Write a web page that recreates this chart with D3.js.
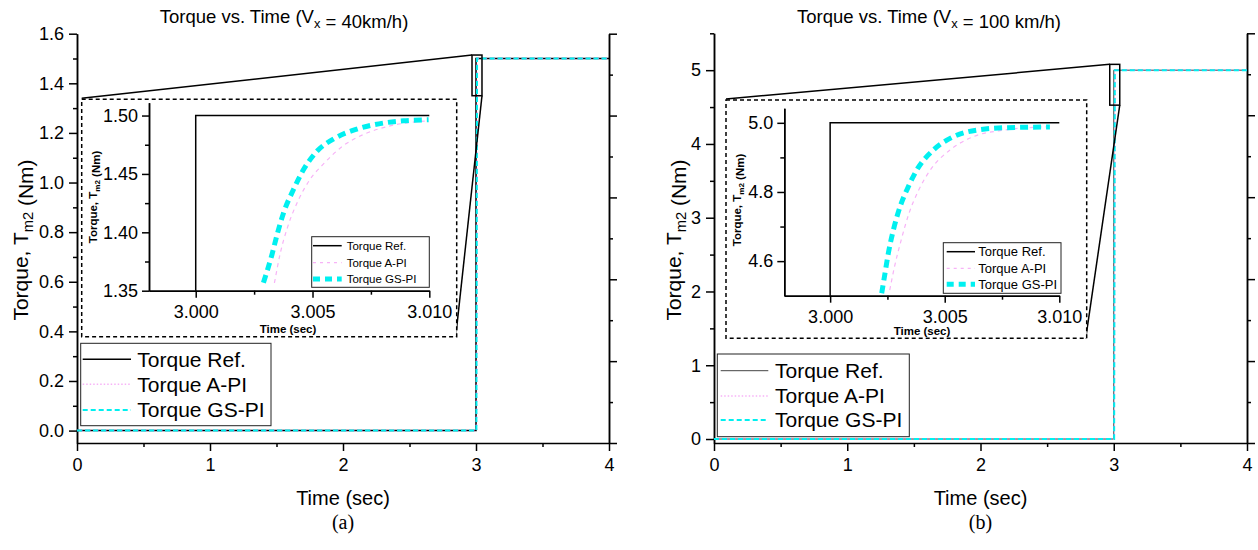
<!DOCTYPE html>
<html>
<head>
<meta charset="utf-8">
<script src="https://cdn.jsdelivr.net/npm/d3@7"></script>
<style>
  body { margin: 0; background: #fff; }
  svg text { font-family: 'Liberation Sans', Arial, sans-serif; }
</style>
</head>
<body>
<div id="chart"></div>
<script>
// Datos
const seriesNames = ['Torque Ref.', 'Torque A-PI', 'Torque GS-PI'];
const mainTicksX = [0, 1, 2, 3, 4];
const insetTicksX = [3.000, 3.005, 3.010];

// (a) Vx = 40 km/h
const refTime = [0, 3, 3, 4];
const refMainA = [0, 0, 1.5, 1.5];
const apiTime = [0, 3.0033, 3.0085, 4];
const apiMainA = [0, 0, 1.5, 1.5];
const gsTime = [0, 3.0029, 3.008, 4];
const gsMainA = [0, 0, 1.5, 1.5];
const yTicksA = [0, 0.2, 0.4, 0.6, 0.8, 1.0, 1.2, 1.4, 1.6];
const insetYTicksA = [1.35, 1.40, 1.45, 1.50];
const insetRefTimeA = [3.000, 3.000, 3.010];
const insetRefA = [1.35, 1.50, 1.50];
const insetGsTimeA = [3.0029, 3.00326, 3.0035, 3.00378, 3.00418, 3.00461, 3.00518, 3.00597, 3.0069, 3.00804, 3.0089, 3.00997];
const insetGsA = [1.3569, 1.3806, 1.3992, 1.4178, 1.4364, 1.4535, 1.4692, 1.4807, 1.4884, 1.4936, 1.4955, 1.4964];
const insetApiTimeA = [3.00337, 3.00362, 3.00394, 3.0044, 3.00488, 3.0055, 3.00627, 3.00715, 3.00823, 3.00997];
const insetApiA = [1.3566, 1.3821, 1.4049, 1.4278, 1.4449, 1.4592, 1.4735, 1.4835, 1.4907, 1.4955];

// (b) Vx = 100 km/h
const refMainB = [0, 0, 5, 5];
const apiMainB = [0, 0, 5, 5];
const gsMainB = [0, 0, 5, 5];
const yTicksB = [0, 1, 2, 3, 4, 5];
const insetYTicksB = [4.6, 4.8, 5.0];
const insetRefTimeB = [3.000, 3.000, 3.010];
const insetRefB = [4.5, 5.0, 5.0];
const insetGsTimeB = [3.00225, 3.00237, 3.00254, 3.00276, 3.00305, 3.00341, 3.00385, 3.0045, 3.00538, 3.0064, 3.0077, 3.00959];
const insetGsB = [4.507, 4.555, 4.623, 4.690, 4.757, 4.815, 4.871, 4.921, 4.960, 4.979, 4.986, 4.988];
const insetApiTimeB = [3.0026, 3.00281, 3.0031, 3.00344, 3.00386, 3.00442, 3.00522, 3.00625, 3.0076, 3.00959];
const insetApiB = [4.516, 4.584, 4.661, 4.738, 4.805, 4.868, 4.921, 4.960, 4.979, 4.989];

const W = 1258, H = 550;
const COLOR_API = '#ee55ee', COLOR_API_LIGHT = '#f7b3f7', COLOR_GS = '#00f0f0';

const svg = d3.select('#chart').append('svg')
  .attr('width', W).attr('height', H);

function zip(xs, ys) { return xs.map((x, i) => [x, ys[i]]); }

function subText(g, x, y, parts, size, opts) {
  let t = g.append('text').attr('x', x).attr('y', y)
    .attr('font-size', size).attr('text-anchor', 'middle');
  if (opts && opts.bold) t.attr('font-weight', 'bold');
  if (opts && opts.rotate) t.attr('transform', 'rotate(-90,' + x + ',' + y + ')');
  parts.forEach(p => {
    if (p.sub) {
      t.append('tspan').attr('font-size', size * 0.7).attr('dy', size * 0.25).text(p.t);
      t.append('tspan').attr('dy', -size * 0.25).text('');
    } else {
      t.append('tspan').text(p.t);
    }
  });
  return t;
}

function styleAxis(g, w) {
  g.selectAll('path.domain').attr('stroke', '#000').attr('stroke-width', w);
  g.selectAll('.tick line').attr('stroke', '#000').attr('stroke-width', w);
  g.selectAll('.tick text').attr('fill', '#000').attr('font-family', "'Liberation Sans', Arial, sans-serif");
}

function drawPanel(p) {
  const g = svg.append('g');
  const x = d3.scaleLinear().domain([0, 4]).range(p.xRange);
  const y = d3.scaleLinear().domain(p.yDomain).range([443, p.yTop]);
  const line = d3.line().x(d => x(d[0])).y(d => y(d[1]));

  // ejes
  g.append('g').attr('transform', 'translate(0,443)')
    .call(d3.axisBottom(x).tickValues(d3.range(0.5, 4, 1)).tickSize(4).tickFormat('').tickSizeOuter(0))
    .call(s => styleAxis(s, 1.5)).select('.domain').remove();
  let xa = g.append('g').attr('transform', 'translate(0,443)')
    .call(d3.axisBottom(x).tickValues(mainTicksX).tickSize(8).tickSizeOuter(0).tickPadding(7).tickFormat(d3.format('d')));
  styleAxis(xa, 1.5);
  xa.selectAll('text').attr('font-size', 18);

  g.append('g').attr('transform', 'translate(' + p.xRange[0] + ',0)')
    .call(d3.axisLeft(y).tickValues(p.yMinor).tickSize(4).tickFormat('').tickSizeOuter(0))
    .call(s => styleAxis(s, 1.5));
  let ya = g.append('g').attr('transform', 'translate(' + p.xRange[0] + ',0)')
    .call(d3.axisLeft(y).tickValues(p.yTicks).tickSize(8).tickSizeOuter(0).tickPadding(5).tickFormat(d3.format(p.yFmt)));
  styleAxis(ya, 1.5);
  ya.selectAll('text').attr('font-size', 18);

  // eje derecho sin etiquetas
  const yr = d3.scaleLinear().domain([0, 10]).range([443, p.yTop]);
  let ra = g.append('g').attr('transform', 'translate(' + p.xRange[1] + ',0)')
    .call(d3.axisRight(yr).tickValues(d3.range(1, 10, 2)).tickSize(4).tickFormat('').tickSizeOuter(0));
  styleAxis(ra, 1.5);
  let ra2 = g.append('g').attr('transform', 'translate(' + p.xRange[1] + ',0)')
    .call(d3.axisRight(yr).tickValues(d3.range(0, 11, 2)).tickSize(8).tickFormat('').tickSizeOuter(0));
  styleAxis(ra2, 1.5);

  // series
  g.append('path').datum(zip(refTime, p.ref)).attr('d', line)
    .attr('fill', 'none').attr('stroke', p.refColor).attr('stroke-width', p.refWidth);
  g.append('path').datum(zip(apiTime, p.api)).attr('d', line)
    .attr('fill', 'none').attr('stroke', COLOR_API).attr('stroke-width', 1.5).attr('stroke-dasharray', '1.5,2.5');
  g.append('path').datum(zip(gsTime, p.gs)).attr('d', line)
    .attr('fill', 'none').attr('stroke', COLOR_GS).attr('stroke-width', 2).attr('stroke-dasharray', '5,3');

  // rectángulo de zoom y líneas de conexión
  const rx0 = x(2.97), rx1 = x(3.045), ry0 = y(p.zoomY[1]), ry1 = y(p.zoomY[0]);
  g.append('rect').attr('x', rx0).attr('y', ry0).attr('width', rx1 - rx0).attr('height', ry1 - ry0)
    .attr('fill', 'none').attr('stroke', '#000').attr('stroke-width', 1.5);
  const b = p.box;
  g.append('line').attr('x1', rx0).attr('y1', ry0).attr('x2', b[0]).attr('y2', b[1] - 1)
    .attr('stroke', '#000').attr('stroke-width', 1.5);
  g.append('line').attr('x1', rx1).attr('y1', ry1).attr('x2', b[2] - 1).attr('y2', b[3])
    .attr('stroke', '#000').attr('stroke-width', 1.5);

  // recuadro del inset
  g.append('rect').attr('x', b[0]).attr('y', b[1]).attr('width', b[2] - b[0]).attr('height', b[3] - b[1])
    .attr('fill', '#fff').attr('stroke', '#000').attr('stroke-width', 1.5).attr('stroke-dasharray', '4,3');

  // inset
  const ix = d3.scaleLinear().domain([2.998, 3.010]).range(p.insetX);
  const iy = d3.scaleLinear().domain(p.insetYDomain).range(p.insetY);
  const curve = d3.line().curve(d3.curveMonotoneX).x(d => ix(d[0])).y(d => iy(d[1]));
  const ib = p.insetY[0];

  g.append('g').attr('transform', 'translate(0,' + ib + ')')
    .call(d3.axisBottom(ix).tickValues([3.0025, 3.0075]).tickSize(4).tickFormat('').tickSizeOuter(0))
    .call(s => styleAxis(s, 1.5));
  let ixa = g.append('g').attr('transform', 'translate(0,' + ib + ')')
    .call(d3.axisBottom(ix).tickValues(insetTicksX).tickSize(7).tickSizeOuter(0).tickPadding(8).tickFormat(d3.format('.3f')));
  styleAxis(ixa, 1.5);
  ixa.selectAll('text').attr('font-size', 18);

  g.append('g').attr('transform', 'translate(' + p.insetX[0] + ',0)')
    .call(d3.axisLeft(iy).tickValues(p.insetYMinor).tickSize(4).tickFormat('').tickSizeOuter(0))
    .call(s => styleAxis(s, 1.5));
  let iya = g.append('g').attr('transform', 'translate(' + p.insetX[0] + ',0)')
    .call(d3.axisLeft(iy).tickValues(p.insetYTicks).tickSize(7).tickSizeOuter(0).tickPadding(4).tickFormat(d3.format(p.insetFmt)));
  styleAxis(iya, 1.5);
  iya.selectAll('text').attr('font-size', 18);

  g.append('path').datum(zip(p.insetRefTime, p.insetRef)).attr('d', d3.line().x(d => ix(d[0])).y(d => iy(d[1])))
    .attr('fill', 'none').attr('stroke', '#000').attr('stroke-width', 1.5);
  g.append('path').datum(zip(p.insetApiTime, p.insetApi)).attr('d', curve)
    .attr('fill', 'none').attr('stroke', COLOR_API_LIGHT).attr('stroke-width', 1.2).attr('stroke-dasharray', '4,4');
  g.append('path').datum(zip(p.insetGsTime, p.insetGs)).attr('d', curve)
    .attr('fill', 'none').attr('stroke', COLOR_GS).attr('stroke-width', 5).attr('stroke-dasharray', '8,5');

  subText(g, p.insetYLab[0], p.insetYLab[1], [{t: 'Torque, T'}, {t: 'm2', sub: true}, {t: ' (Nm)'}], 11.5, {bold: true, rotate: true});
  subText(g, p.insetXLab[0], p.insetXLab[1], [{t: 'Time (sec)'}], 11.5, {bold: true});

  // leyenda del inset
  drawLegend(g, p.insetLeg, p.insetLegRows, p.insetLegLine, p.insetLegFont, true, p.refColor);
  // leyenda principal
  drawLegend(g, p.leg, p.legRows, p.legLine, 21, false, p.refColor, p.refWidth);

  // textos
  subText(g, p.titleX, 23, [{t: 'Torque vs. Time (V'}, {t: 'x', sub: true}, {t: p.titleTail}], 18.5);
  subText(g, p.yLabX, 240, [{t: 'Torque, T'}, {t: 'm2', sub: true}, {t: ' (Nm)'}], 21, {rotate: true});
  subText(g, (p.xRange[0] + p.xRange[1]) / 2, 505, [{t: 'Time (sec)'}], 20);
  g.append('text').attr('x', (p.xRange[0] + p.xRange[1]) / 2).attr('y', 529)
    .attr('text-anchor', 'middle').attr('font-size', 20)
    .style('font-family', "'Liberation Serif', 'Times New Roman', serif").text(p.panel);
}

function drawLegend(g, box, rows, ln, fs, inset, refColor, refWidth) {
  g.append('rect').attr('x', box[0]).attr('y', box[1]).attr('width', box[2] - box[0]).attr('height', box[3] - box[1])
    .attr('fill', '#fff').attr('stroke', '#222').attr('stroke-width', 1);
  const styles = inset
    ? [{c: '#000', w: 1.5, d: null}, {c: COLOR_API_LIGHT, w: 1.2, d: '3,4'}, {c: COLOR_GS, w: 5, d: '7,5'}]
    : [{c: refColor, w: refWidth, d: null}, {c: COLOR_API_LIGHT, w: 1.5, d: '1.5,2'}, {c: COLOR_GS, w: 2, d: '5,3'}];
  seriesNames.forEach((name, i) => {
    const l = g.append('line').attr('x1', ln[0]).attr('x2', ln[1]).attr('y1', rows[i]).attr('y2', rows[i])
      .attr('stroke', styles[i].c).attr('stroke-width', styles[i].w);
    if (styles[i].d) l.attr('stroke-dasharray', styles[i].d);
    g.append('text').attr('x', ln[2]).attr('y', rows[i]).attr('dy', '0.35em')
      .attr('font-size', fs).text(name);
  });
}

drawPanel({
  panel: '(a)', titleX: 284, titleTail: ' = 40km/h)', yLabX: 28,
  xRange: [77, 609], yDomain: [-0.05, 1.6], yTop: 33.7, yFmt: '.1f',
  yTicks: yTicksA, yMinor: d3.range(0.1, 1.6, 0.2),
  ref: refMainA, api: apiMainA, gs: gsMainA, refColor: '#000', refWidth: 1.5,
  zoomY: [1.35, 1.514], box: [81.7, 99.3, 456.7, 336.7],
  insetX: [149, 429.3], insetY: [290.7, 102.7], insetYDomain: [1.35, 1.511],
  insetYTicks: insetYTicksA, insetYMinor: [1.375, 1.425, 1.475], insetFmt: '.2f',
  insetRefTime: insetRefTimeA, insetRef: insetRefA,
  insetGsTime: insetGsTimeA, insetGs: insetGsA, insetApiTime: insetApiTimeA, insetApi: insetApiA,
  insetYLab: [97, 197], insetXLab: [288, 333],
  insetLeg: [311.7, 236.7, 429.3, 287.3], insetLegRows: [245.7, 262.7, 279], insetLegLine: [313, 341.7, 346.7], insetLegFont: 11.5,
  leg: [80.7, 343.3, 271, 425.7], legRows: [359.3, 384.3, 410], legLine: [82.7, 131, 137.3]
});

drawPanel({
  panel: '(b)', titleX: 929, titleTail: ' = 100 km/h)', yLabX: 681,
  xRange: [714, 1247], yDomain: [-0.054, 5.5], yTop: 33.3, yFmt: 'd',
  yTicks: yTicksB, yMinor: d3.range(0.5, 5.6, 1),
  ref: refMainB, api: apiMainB, gs: gsMainB, refColor: '#444', refWidth: 1,
  zoomY: [4.526, 5.079], box: [726, 100, 1086.7, 338.3],
  insetX: [784.3, 1059.3], insetY: [295.7, 108.3], insetYDomain: [4.5, 5.042],
  insetYTicks: insetYTicksB, insetYMinor: [4.7, 4.9], insetFmt: '.1f',
  insetRefTime: insetRefTimeB, insetRef: insetRefB,
  insetGsTime: insetGsTimeB, insetGs: insetGsB, insetApiTime: insetApiTimeB, insetApi: insetApiB,
  insetYLab: [741, 200], insetXLab: [922, 335],
  insetLeg: [943.3, 242.7, 1061, 293.3], insetLegRows: [251.7, 268.3, 284.3], insetLegLine: [946.7, 975, 978.3], insetLegFont: 13,
  leg: [717.3, 354, 909.3, 436.7], legRows: [370.7, 396, 420], legLine: [720.7, 768.3, 775]
});
</script>
</body>
</html>
